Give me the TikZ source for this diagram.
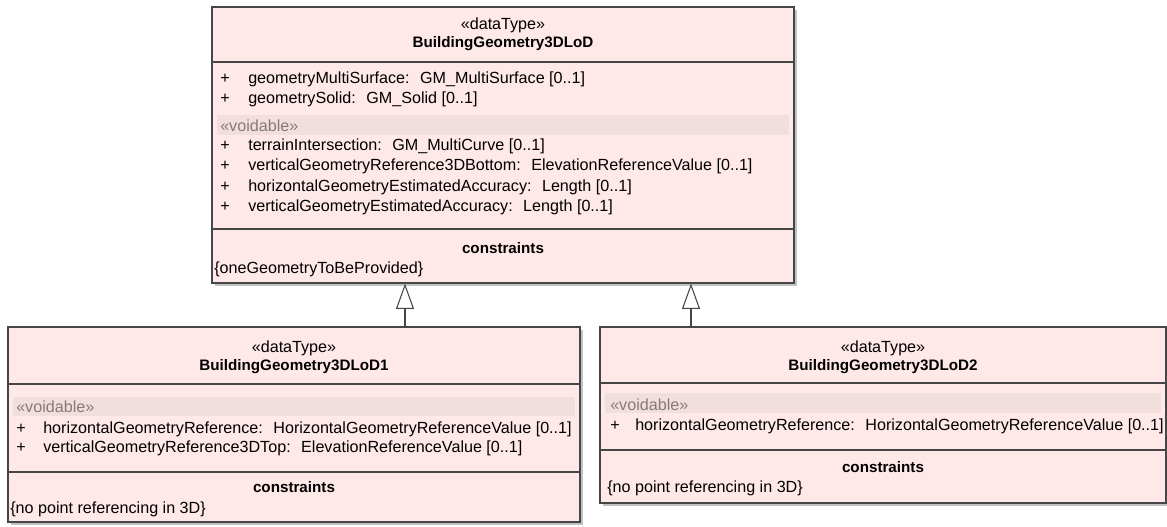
\documentclass[tikz,border=0pt]{standalone}
\usepackage{fontspec}
\setmainfont{Liberation Sans}
\usetikzlibrary{arrows.meta,positioning,fit,shadows}
\definecolor{boxpink}{RGB}{255,232,232}
\definecolor{voidpink}{RGB}{243,222,222}
\definecolor{umlline}{RGB}{70,70,70}
\definecolor{voidgray}{RGB}{135,122,122}
\newcommand{\umlfont}{\fontsize{12.1}{14}\selectfont}
\newcommand{\umlbold}{\fontsize{11.4}{14}\selectfont\bfseries}

\tikzset{
  classbox/.style={draw=umlline,line width=0.9pt,fill=boxpink,inner sep=0pt,
    drop shadow={shadow xshift=2pt,shadow yshift=-2pt,fill=black!40,opacity=.6}},
  divider/.style={umlline,line width=0.9pt},
  voidband/.style={fill=voidpink},
  stereo/.style={anchor=base,inner sep=0pt},
  cname/.style={anchor=base,inner sep=0pt,font=\umlbold},
  plus/.style={anchor=base west,inner sep=0pt},
  attr/.style={anchor=base west,inner sep=0pt},
  voidlabel/.style={anchor=base west,inner sep=0pt,text=voidgray},
  generalization/.style={umlline,line width=0.8pt,
    -{Triangle[open,length=19pt,width=13.5pt,fill=white]}}
}

\begin{document}
\begin{tikzpicture}[x=0.75pt,y=-0.75pt,font=\umlfont]
  \useasboundingbox (0,0) rectangle (1167,526);
  % BuildingGeometry3DLoD
  \node[classbox,fit={(212,7) (794,283)}] (lod) {};
  \draw[divider] (212,62) -- (794,62);
  \fill[voidband] (217,115) rectangle (789,135);
  \draw[divider] (212,229) -- (794,229);
  \node[stereo] (lod-st) at (503,29) {«dataType»};
  \node[cname] (lod-nm) at (503,47) {BuildingGeometry3DLoD};
  \foreach \y/\t [count=\i] in {83/{geometryMultiSurface:~ GM\_MultiSurface [0..1]},
      103/{geometrySolid:~ GM\_Solid [0..1]},
      150/{terrainIntersection:~ GM\_MultiCurve [0..1]},
      170/{verticalGeometryReference3DBottom:~ ElevationReferenceValue [0..1]},
      191/{horizontalGeometryEstimatedAccuracy:~ Length [0..1]},
      211/{verticalGeometryEstimatedAccuracy:~ Length [0..1]}} {
    \node[plus] (lod-p\i) at (220,\y) {+};
    \node[attr] (lod-a\i) at (248,\y) {\t};
  }
  \node[voidlabel] (lod-vd) at (220,131) {«voidable»};
  \node[cname] (lod-cs) at (503,253) {constraints};
  \node[attr] (lod-ct) at (214,273) {\{oneGeometryToBeProvided\}};

  % BuildingGeometry3DLoD1
  \node[classbox,fit={(8,327) (580,522)}] (lodone) {};
  \draw[divider] (8,384) -- (580,384);
  \fill[voidband] (13,397) rectangle (575,416);
  \draw[divider] (8,472) -- (580,472);
  \node[stereo] (lodone-st) at (294,352) {«dataType»};
  \node[cname] (lodone-nm) at (294,370) {BuildingGeometry3DLoD1};
  \node[voidlabel] (lodone-vd) at (16,412) {«voidable»};
  \foreach \y/\t [count=\i] in {433/{horizontalGeometryReference:~ HorizontalGeometryReferenceValue [0..1]},
      452/{verticalGeometryReference3DTop:~ ElevationReferenceValue [0..1]}} {
    \node[plus] (lodone-p\i) at (16,\y) {+};
    \node[attr] (lodone-a\i) at (43,\y) {\t};
  }
  \node[cname] (lodone-cs) at (294,492) {constraints};
  \node[attr] (lodone-ct) at (10,513) {\{no point referencing in 3D\}};

  % BuildingGeometry3DLoD2
  \node[classbox,fit={(600,327) (1166,503)}] (lodtwo) {};
  \draw[divider] (600,383) -- (1166,383);
  \fill[voidband] (605,393) rectangle (1161,413);
  \draw[divider] (600,450) -- (1166,450);
  \node[stereo] (lodtwo-st) at (883,352) {«dataType»};
  \node[cname] (lodtwo-nm) at (883,370) {BuildingGeometry3DLoD2};
  \node[voidlabel] (lodtwo-vd) at (610,410) {«voidable»};
  \node[plus] (lodtwo-p1) at (610,430) {+};
  \node[attr] (lodtwo-a1) at (635,430) {horizontalGeometryReference:~ HorizontalGeometryReferenceValue [0..1]};
  \node[cname] (lodtwo-cs) at (883,472) {constraints};
  \node[attr] (lodtwo-ct) at (607,492) {\{no point referencing in 3D\}};

  % generalizations
  \coordinate (gen1) at (lod.south -| 405,0);
  \coordinate (gen2) at (lod.south -| 691,0);
  \draw[generalization] (lodone.north -| gen1) -- (gen1);
  \draw[generalization] (lodtwo.north -| gen2) -- (gen2);
\end{tikzpicture}
\end{document}
